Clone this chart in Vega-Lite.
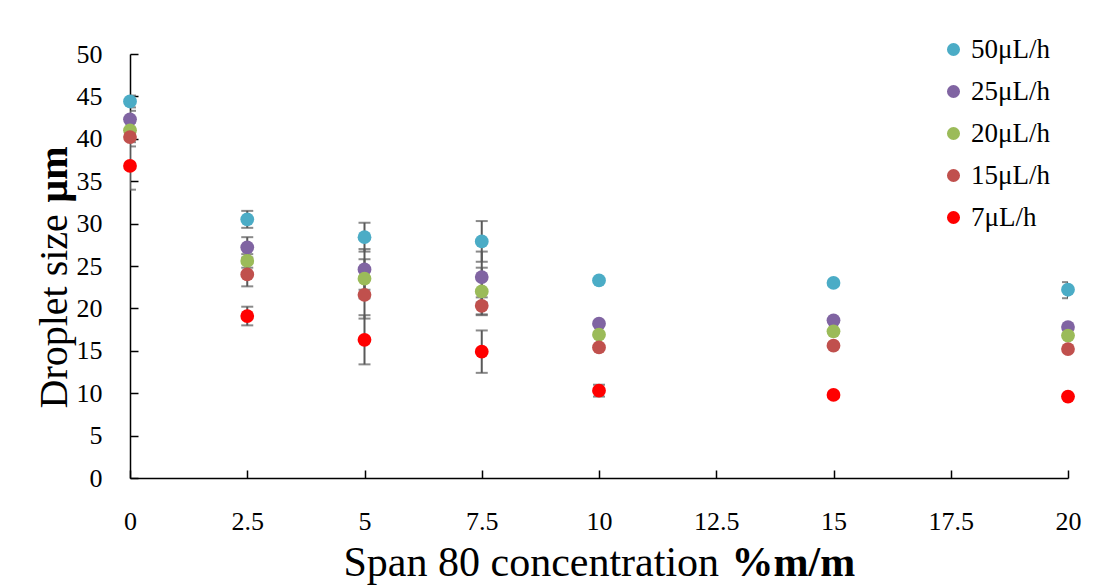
{
  "$schema": "https://vega.github.io/schema/vega-lite/v6.json",
  "width": 938,
  "height": 424,
  "autosize": {"type": "none"},
  "padding": {"left": 130, "top": 54, "right": 36, "bottom": 108},
  "background": "white",
  "config": {
    "view": {"stroke": null},
    "font": "Liberation Serif",
    "axis": {"grid": false, "labelFont": "Liberation Serif", "titleFont": "Liberation Serif", "labelColor": "#000", "titleColor": "#000", "domainColor": "#000", "tickColor": "#000"}
  },
  "data": {
    "values": [
      {"c": 0, "rate": "50μL/h", "d": 44.4, "lo": 43.7, "hi": 45.1},
      {"c": 0, "rate": "25μL/h", "d": 42.3, "lo": 41.3, "hi": 43.3},
      {"c": 0, "rate": "20μL/h", "d": 41.0, "lo": 40.1, "hi": 41.9},
      {"c": 0, "rate": "15μL/h", "d": 40.2, "lo": 39.1, "hi": 41.3},
      {"c": 0, "rate": "7μL/h", "d": 36.8, "lo": 34.0, "hi": 39.6},
      {"c": 2.5, "rate": "50μL/h", "d": 30.5, "lo": 29.5, "hi": 31.5},
      {"c": 2.5, "rate": "25μL/h", "d": 27.2, "lo": 26.0, "hi": 28.4},
      {"c": 2.5, "rate": "20μL/h", "d": 25.6, "lo": 24.8, "hi": 26.4},
      {"c": 2.5, "rate": "15μL/h", "d": 24.0, "lo": 22.6, "hi": 25.4},
      {"c": 2.5, "rate": "7μL/h", "d": 19.1, "lo": 18.0, "hi": 20.2},
      {"c": 5, "rate": "50μL/h", "d": 28.4, "lo": 26.7, "hi": 30.1},
      {"c": 5, "rate": "25μL/h", "d": 24.6, "lo": 22.2, "hi": 27.0},
      {"c": 5, "rate": "20μL/h", "d": 23.5, "lo": 21.2, "hi": 25.8},
      {"c": 5, "rate": "15μL/h", "d": 21.6, "lo": 18.8, "hi": 24.4},
      {"c": 5, "rate": "7μL/h", "d": 16.3, "lo": 13.4, "hi": 19.2},
      {"c": 7.5, "rate": "50μL/h", "d": 27.9, "lo": 25.5, "hi": 30.3},
      {"c": 7.5, "rate": "25μL/h", "d": 23.7, "lo": 20.7, "hi": 26.7},
      {"c": 7.5, "rate": "20μL/h", "d": 22.0, "lo": 19.2, "hi": 24.8},
      {"c": 7.5, "rate": "15μL/h", "d": 20.3, "lo": 19.3, "hi": 21.3},
      {"c": 7.5, "rate": "7μL/h", "d": 14.9, "lo": 12.4, "hi": 17.4},
      {"c": 10, "rate": "50μL/h", "d": 23.3},
      {"c": 10, "rate": "25μL/h", "d": 18.2},
      {"c": 10, "rate": "20μL/h", "d": 16.9},
      {"c": 10, "rate": "15μL/h", "d": 15.4},
      {"c": 10, "rate": "7μL/h", "d": 10.3, "lo": 9.6, "hi": 11.0},
      {"c": 15, "rate": "50μL/h", "d": 23.0},
      {"c": 15, "rate": "25μL/h", "d": 18.6},
      {"c": 15, "rate": "20μL/h", "d": 17.3},
      {"c": 15, "rate": "15μL/h", "d": 15.6},
      {"c": 15, "rate": "7μL/h", "d": 9.8},
      {"c": 20, "rate": "50μL/h", "d": 22.2, "lo": 21.2, "hi": 23.1},
      {"c": 20, "rate": "25μL/h", "d": 17.8},
      {"c": 20, "rate": "20μL/h", "d": 16.8},
      {"c": 20, "rate": "15μL/h", "d": 15.2},
      {"c": 20, "rate": "7μL/h", "d": 9.6}
    ]
  },
  "resolve": {"axis": {"x": "independent", "y": "independent"}},
  "layer": [
    {
      "transform": [{"filter": "datum.lo != null"}],
      "mark": {"type": "errorbar", "color": "#595959", "clip": true, "rule": {"strokeWidth": 2}, "ticks": {"size": 12, "thickness": 2}},
      "encoding": {
        "x": {
          "field": "c", "type": "quantitative",
          "scale": {"domain": [0, 20], "nice": false, "zero": false},
          "axis": {
            "values": [0, 2.5, 5, 7.5, 10, 12.5, 15, 17.5, 20], "format": ".1~f", "labelFlush": false,
            "tickSize": -8, "tickWidth": 1.5, "domainWidth": 1.5, "labelFontSize": 26, "labelPadding": 38,
            "title": "Span 80 concentration", "titleFontSize": 42, "titleFontWeight": "normal",
            "titleAlign": "left", "titleAnchor": null, "titleBaseline": "alphabetic", "titleX": 213, "titleY": 97
          }
        },
        "y": {
          "field": "lo", "type": "quantitative",
          "scale": {"domain": [0, 50], "nice": false},
          "axis": {
            "values": [0, 5, 10, 15, 20, 25, 30, 35, 40, 45, 50], "labelFlush": false,
            "tickSize": -8, "tickWidth": 1.5, "domainWidth": 1.5, "labelFontSize": 26, "labelPadding": 36,
            "title": "Droplet size", "titleFontSize": 40, "titleFontWeight": "normal", "titleAngle": -90,
            "titleAlign": "left", "titleAnchor": null, "titleBaseline": "alphabetic", "titleX": -64, "titleY": 354
          }
        },
        "y2": {"field": "hi"}
      }
    },
    {
      "mark": {"type": "circle", "size": 190, "opacity": 1},
      "encoding": {
        "x": {
          "field": "c", "type": "quantitative",
          "axis": {
            "orient": "top", "domain": false, "ticks": false, "labels": false,
            "title": "%m/m", "titleFontSize": 42, "titleFontWeight": "bold",
            "titleAlign": "left", "titleAnchor": null, "titleBaseline": "alphabetic", "titleX": 601, "titleY": 521
          }
        },
        "y": {
          "field": "d", "type": "quantitative",
          "axis": {
            "orient": "right", "domain": false, "ticks": false, "labels": false,
            "title": "μm", "titleFontSize": 40, "titleFontWeight": "bold", "titleAngle": -90,
            "titleAlign": "left", "titleAnchor": null, "titleBaseline": "alphabetic", "titleX": -1002, "titleY": 148
          }
        },
        "color": {
          "field": "rate", "type": "nominal",
          "scale": {
            "domain": ["50μL/h", "25μL/h", "20μL/h", "15μL/h", "7μL/h"],
            "range": ["#4BACC6", "#8064A2", "#9BBB59", "#C0504D", "#FF0000"]
          },
          "legend": {
            "orient": "none", "legendX": 810, "legendY": -18, "title": null,
            "symbolType": "circle", "symbolSize": 170, "symbolStrokeWidth": 0,
            "labelFont": "Liberation Serif", "labelFontSize": 27, "labelColor": "#000", "labelOffset": 4,
            "rowPadding": 14
          }
        }
      }
    }
  ]
}
